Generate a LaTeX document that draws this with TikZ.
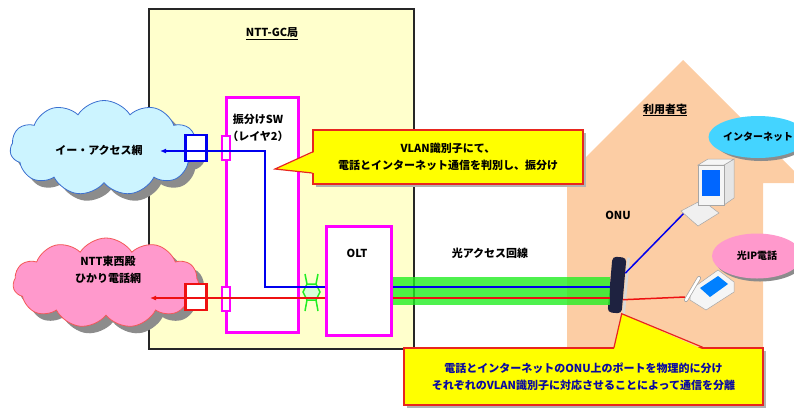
\documentclass[tikz,border=0pt]{standalone}
\usepackage{fontspec}
\setmainfont{Noto Sans CJK JP}
\usetikzlibrary{shapes.symbols,shapes.geometric,arrows.meta}

\definecolor{gcyellow}{HTML}{FFFFCC}
\definecolor{swmag}{HTML}{FF00FF}
\definecolor{peach}{HTML}{FCCDA4}
\definecolor{tipyellow}{HTML}{FFFF00}
\definecolor{tipred}{HTML}{E8261E}
\definecolor{fiber}{HTML}{22EE22}
\definecolor{eacccyan}{HTML}{CCF4FF}
\definecolor{eaccline}{HTML}{3A6FD0}
\definecolor{hikaripink}{HTML}{FF99CC}
\definecolor{netcyan}{HTML}{44D4FF}
\definecolor{onunavy}{HTML}{1E2240}
\definecolor{linkblue}{HTML}{0000EE}
\definecolor{linkred}{HTML}{EE1111}
\definecolor{notetext}{HTML}{0A0AA0}
\definecolor{shadowgray}{HTML}{8C8C8C}

\begin{document}
\begin{tikzpicture}[x=1pt,y=-1pt,
  font=\bfseries\fontsize{11}{17}\selectfont,
  every node/.style={inner sep=0pt},
  box/.style={draw=swmag, line width=2.8pt, fill=white, anchor=north west},
  port/.style={line width=2.2pt, fill=white, minimum width=21pt, minimum height=26pt},
  swport/.style={draw=swmag, line width=1.5pt, fill=white, minimum width=8pt, minimum height=24pt},
  bline/.style={linkblue, line width=2pt},
  rline/.style={linkred, line width=2pt},
  net/.style={cloud, cloud puffs=11, cloud puff arc=115, aspect=2, line width=0.8pt},
  bubble/.style={ellipse, font=\bfseries\fontsize{10}{12}\selectfont},
  note/.style={draw=tipred, line width=1.2pt, fill=tipyellow, align=center},
]
  \useasboundingbox (0,0) rectangle (794,408);

  % house of the subscriber
  \fill[peach] (567,352) -- (567,176) -- (683,60) -- (800,177) -- (800,183)
    -- (763,183) -- (763,352) -- cycle;
  \node (hometitle) at (665,110) {\underline{利用者宅}};

  % GC station
  \node[draw=black!85, line width=1.8pt, fill=gcyellow, minimum width=265pt,
    minimum height=340pt, anchor=north west] (gc) at (148,8) {};
  \node (gctitle) at (272,34) {\underline{NTT-GC局}};

  % networks, each with its shadow first
  \node[net, fill=shadowgray, minimum width=188pt, minimum height=95pt] (eaccshadow) at (111,155) {};
  \node[net, draw=eaccline, fill=eacccyan, minimum width=188pt, minimum height=95pt] (eacc) at (104,148) {};
  \node (eacctext) at (99,150) {イー・アクセス網};
  \node[net, fill=shadowgray, minimum width=186pt, minimum height=90pt] (hikarishadow) at (113,290) {};
  \node[net, draw=linkred!70, fill=hikaripink, minimum width=186pt, minimum height=90pt] (hikari) at (106,283) {};
  \node[align=center] (hikaritext) at (108,270) {NTT東西殿\\ひかり電話網};

  % switch and OLT
  \node[box, minimum width=72pt, minimum height=235pt] (sw) at (225,96) {};
  \node[align=center] (swtext) at (258,128) {振分けSW\\（レイヤ2）};
  \node[box, minimum width=65pt, minimum height=109pt] (olt) at (325,225) {};
  \node (olttext) at (357,253) {OLT};

  \node[port, draw=linkblue] (bport) at (196,148) {};
  \node[port, draw=linkred] (rport) at (196,297) {};
  \node[swport] (bswport) at (226,148) {};
  \node[swport] (rswport) at (226,299) {};

  % link between switch and OLT
  \filldraw[draw=fiber, fill=green!15, line width=1.5pt] (303,292) -- (307,284) -- (316,284)
    -- (320,292) -- (316,300) -- (307,300) -- cycle;
  \draw[fiber, line width=1.5pt] (307,284) -- (305,274) (316,284) -- (318,274)
    (307,300) -- (305,311) (316,300) -- (318,311);

  \coordinate (bturn) at (265,287);
  \coordinate (bbend) at (265,151);
  \coordinate (btip) at (160,151);
  \coordinate (rtip) at (150,298);
  \draw[bline, -{Latex[length=6pt,width=5pt]}] (olt.west |- bturn) -- (bturn) -- (bbend) -- (btip);
  \draw[rline, -{Latex[length=6pt,width=5pt]}] (olt.west |- rtip) -- (rtip);

  % access line
  \node[fill=onunavy, rounded corners=4pt, minimum width=14pt, minimum height=56pt,
    rotate=-5] (onu) at (617,285) {};
  \draw[gray!30, line width=2.5pt] ([xshift=2pt]onu.north east) -- ([xshift=2pt]onu.south east);
  \node (onutext) at (618,215) {ONU};
  \fill[fiber, opacity=0.8] (olt.east |- 0,277) rectangle (onu.west |- 0,305);
  \draw[bline] (olt.east |- bturn) -- (onu.west |- bturn);
  \draw[rline] (olt.east |- rtip) -- (onu.west |- rtip);
  \node (fibertext) at (490,253) {光アクセス回線};

  % PC
  \coordinate (pc) at (688,209);
  \coordinate (phone) at (685,297);
  \draw[bline, line width=1.5pt] (onu.60) -- (pc);
  \draw[rline, line width=1.5pt] (onu.-63) -- (phone);
  \filldraw[fill=gray!12, draw=gray!70, line width=0.5pt] (681,211) -- (702,200) -- (719,213) -- (698,226) -- cycle;
  \filldraw[fill=gray!20, draw=gray!70, line width=0.5pt] (724,165) -- (734,159) -- (734,198) -- (724,205) -- cycle;
  \filldraw[fill=gray!8, draw=gray!70, line width=0.5pt] (698,165) -- (708,159) -- (734,159) -- (724,165) -- cycle;
  \filldraw[fill=gray!8, draw=gray!70, line width=0.5pt] (698,165) rectangle (724,205);
  \fill[blue!60!cyan] (702,170) rectangle (720,196);

  % telephone
  \filldraw[fill=gray!8, draw=gray!70, line width=0.5pt] (690,290) -- (718,270) -- (734,282)
    -- (734,292) -- (706,310) -- (690,300) -- cycle;
  \fill[blue!50!cyan] (700,288) -- (718,276) -- (728,284) -- (710,297) -- cycle;
  \draw[gray!70, line width=4pt, line cap=round] (686,300) -- (699,278);
  \draw[white, line width=2.5pt, line cap=round] (686,300) -- (699,278);

  % services
  \node[ellipse, fill=shadowgray, minimum width=94pt, minimum height=42pt] (inetshadow) at (761,140) {};
  \node[bubble, fill=netcyan, minimum width=94pt, minimum height=42pt] (inet) at (758,137) {インターネット};
  \node[ellipse, fill=shadowgray, minimum width=90pt, minimum height=45pt] (ipphoneshadow) at (760,259) {};
  \node[bubble, fill=hikaripink, minimum width=90pt, minimum height=45pt] (ipphone) at (757,256) {光IP電話};

  % notes
  \fill[gray!60] (316,133) rectangle (586,187);
  \node[note, minimum width=270pt, minimum height=54pt] (vlannote) at (448,157)
    {VLAN識別子にて、\\電話とインターネット通信を判別し、振分け};
  \fill[tipyellow] (314.5,152) -- (275,169) -- (314.5,173) -- cycle;
  \draw[tipred, line width=1.2pt] (vlannote.west |- 0,152) -- (275,169) -- (vlannote.west |- 0,173);

  \fill[gray!60] (407,351) rectangle (766,408);
  \node[note, minimum width=359pt, minimum height=57pt, text=notetext] (portnote) at (583.5,376.5)
    {電話とインターネットのONU上のポートを物理的に分け\\それぞれのVLAN識別子に対応させることによって通信を分離};
  \fill[tipyellow] (614,349.5) -- (onu.south east) -- (703,349.5) -- cycle;
  \draw[tipred, line width=1.2pt] (portnote.north -| 614,0) -- (onu.south east) -- (portnote.north -| 703,0);
\end{tikzpicture}
\end{document}
